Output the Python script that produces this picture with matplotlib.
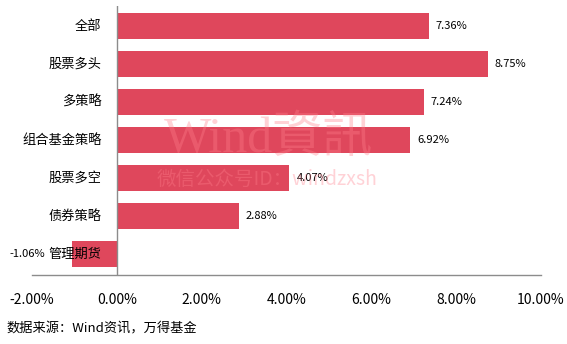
import matplotlib
matplotlib.use('Agg')
import matplotlib.pyplot as plt

plt.rcParams['font.family'] = ['Noto Sans CJK SC', 'DejaVu Sans']

categories = ['全部', '股票多头', '多策略', '组合基金策略', '股票多空', '债券策略', '管理期货']
returns = [7.36, 8.75, 7.24, 6.92, 4.07, 2.88, -1.06]
xticks = [-2, 0, 2, 4, 6, 8, 10]
source = '数据来源：Wind资讯，万得基金'

bar_color = '#DF475C'
axis_color = '#8C8C8C'

fig = plt.figure(figsize=(5.67, 3.44), dpi=100)
ax = fig.add_axes([0.0564, 0.2006, 0.8976, 0.782])

y = list(range(len(categories)))
ax.barh(y, returns, height=0.68, color=bar_color, zorder=2)

ax.set_xlim(-2, 10)
ax.set_ylim(6.55, -0.53)
ax.set_xticks(xticks)
ax.set_xticklabels(['%.2f%%' % t for t in xticks], fontsize=10)
ax.tick_params(axis='x', length=0, pad=13)
ax.set_yticks([])

for side in ['top', 'right', 'left']:
    ax.spines[side].set_visible(False)
ax.spines['bottom'].set_color(axis_color)
ax.spines['bottom'].set_linewidth(1)
ax.axvline(0, color=axis_color, lw=1, zorder=3)

# category labels sit left of the zero line
for i, cat in enumerate(categories):
    ax.annotate(cat, (0, i), xytext=(-11, 0), textcoords='offset points',
                ha='right', va='center', fontsize=9.5, zorder=4)

# value labels
for i, v in enumerate(returns):
    if v >= 0:
        ax.annotate('%.2f%%' % v, (v, i), xytext=(5, 0), textcoords='offset points',
                    ha='left', va='center', fontsize=8, zorder=4)
    else:
        ax.annotate('%.2f%%' % v, (v, i), xytext=(-19, 0), textcoords='offset points',
                    ha='right', va='center', fontsize=8, zorder=4)

# watermark
fig.text(0.473, 0.593, 'Wind資訊', fontsize=36, family=['Liberation Serif', 'Noto Sans CJK TC'],
         color='#FF7F8C', alpha=0.35, ha='center', va='center', zorder=5)
fig.text(0.471, 0.477, '微信公众号ID：windzxsh', fontsize=14,
         family=['Noto Sans CJK SC', 'Liberation Serif'],
         color='#FF7F8C', alpha=0.35, ha='center', va='center', zorder=5)

fig.text(0.012, 0.045, source, fontsize=9.5, style='italic', ha='left', va='center')

plt.savefig('out.png', dpi=100)
